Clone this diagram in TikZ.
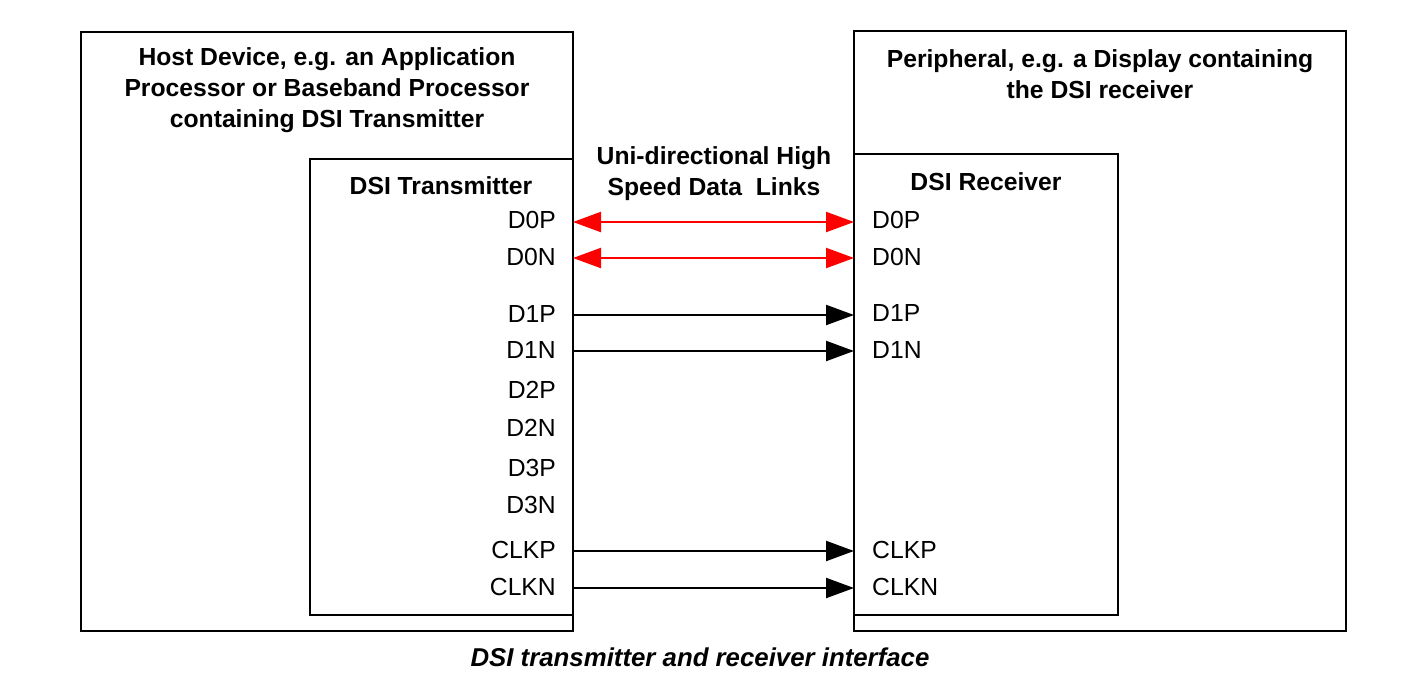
\documentclass[tikz,border=0pt]{standalone}
\usepackage{fontspec}
\setmainfont{Liberation Sans}
\usetikzlibrary{arrows.meta}
\tikzset{>={Triangle[length=28pt,width=20pt]}}

\begin{document}
\begin{tikzpicture}[x=1pt,y=-1pt,
    box/.style={draw, line width=2pt, inner sep=0pt, outer sep=0pt, anchor=north west},
    title/.style={align=center, inner sep=0pt, font=\fontsize{24.7}{31}\selectfont\bfseries},
    pin/.style={inner sep=0pt, font=\fontsize{24.7}{29}\selectfont},
    hslink/.style={<->, red, line width=2.2pt},
    link/.style={->, line width=2.2pt}]
    \useasboundingbox (0,0) rectangle (1410,678);
    % outer devices
    \node[box, minimum width=492pt, minimum height=599pt] (host) at (81,32) {};
    \node[box, minimum width=492pt, minimum height=600pt] (periph) at (854,31) {};
    % DSI blocks
    \node[box, minimum width=263pt, minimum height=456pt] (tx) at (310,159) {};
    \node[box, minimum width=264pt, minimum height=461pt] (rx) at (854,154) {};
    \node[title] (hosttitle) at (327,90) {Host Device, e.g. an Application\\Processor or Baseband Processor\\containing DSI Transmitter};
    \node[title] (periphtitle) at (1100,74.5) {Peripheral, e.g. a Display containing\\the DSI receiver};
    \node[title] (txtitle) at (441,186) {DSI Transmitter};
    \node[title] (rxtitle) at (986,182) {DSI Receiver};
    \node[title] (linkstitle) at (714,174) {Uni-directional High\\Speed Data\ \ Links};
    % pins
    \foreach \p/\y in {D0P/220, D0N/257, D1P/314, D1N/350, D2P/390, D2N/428, D3P/468, D3N/505, CLKP/550, CLKN/587}
        \node[pin, anchor=east] (tx\p) at (556,\y) {\p};
    \foreach \p/\y in {D0P/220, D0N/257, D1P/313, D1N/350, CLKP/550, CLKN/587}
        \node[pin, anchor=west] (rx\p) at (872,\y) {\p};
    % links
    \draw[hslink] ([yshift=-2pt]tx.east |- txD0P) -- ([yshift=-2pt]rx.west |- txD0P);
    \draw[hslink] ([yshift=-1pt]tx.east |- txD0N) -- ([yshift=-1pt]rx.west |- txD0N);
    \foreach \p in {D1P, D1N, CLKP, CLKN}
        \draw[link] ([yshift=-1pt]tx.east |- tx\p) -- ([yshift=-1pt]rx.west |- tx\p);
    \node[font=\fontsize{25.8}{30}\selectfont\bfseries\itshape] (caption) at (700,657) {DSI transmitter and receiver interface};
\end{tikzpicture}
\end{document}
